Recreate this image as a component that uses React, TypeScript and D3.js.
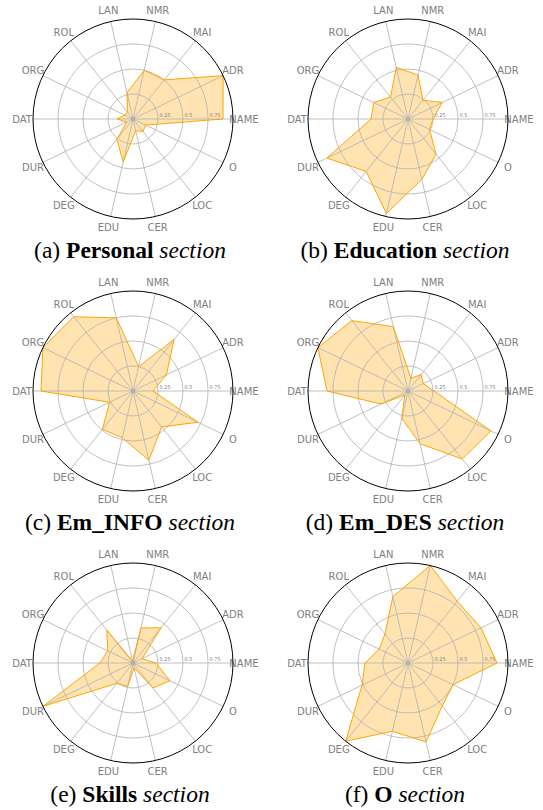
import * as d3 from "d3";

// axis order, counter-clockwise starting at 3 o'clock
const axes = ["NAME", "ADR", "MAI", "NMR", "LAN", "ROL", "ORG", "DAT", "DUR", "DEG", "EDU", "CER", "LOC", "O"];
const rTicks = [0.25, 0.5, 0.75];

const personal = [0.9, 1.0, 0.5, 0.5, 0.27, 0.09, 0.09, 0.16, 0.07, 0.26, 0.44, 0.12, 0.16, 0.14];
const education = [0.25, 0.38, 0.24, 0.45, 0.53, 0.28, 0.38, 0.37, 0.9, 0.67, 0.97, 0.62, 0.45, 0.24];
const emInfo = [0.2, 0.37, 0.66, 0.25, 0.75, 0.95, 1.0, 0.92, 0.26, 0.49, 0.48, 0.71, 0.46, 0.72];
const emDes = [0.26, 0.17, 0.21, 0.13, 0.66, 0.9, 1.0, 0.81, 0.3, 0.05, 0.28, 0.54, 0.87, 0.92];
const skills = [0.23, 0.1, 0.45, 0.36, 0.02, 0.42, 0.28, 0.33, 1.0, 0.26, 0.24, 0.05, 0.32, 0.41];
const oSection = [0.89, 0.81, 0.79, 1.0, 0.68, 0.37, 0.32, 0.43, 0.51, 1.0, 0.7, 0.81, 0.55, 0.5];

const letters = ["a", "b", "c", "d", "e", "f"];
const sectionNames = ["Personal", "Education", "Em_INFO", "Em_DES", "Skills", "O"];
const seriesList = [personal, education, emInfo, emDes, skills, oSection];

const W = 543;
const H = 810;
const R = 100;
const colX = [133, 408];
const rowY = [119, 391, 663];

const r = d3.scaleLinear().domain([0, 1]).range([0, R]);
const theta = (i: number) => (i * 2 * Math.PI) / axes.length;

// d3 radial angles go clockwise from 12 o'clock
const radar = d3
  .lineRadial<number>()
  .angle((_, i) => Math.PI / 2 - theta(i))
  .radius((d) => r(d))
  .curve(d3.curveLinearClosed);

const Radar = (props: { values: number[]; cx: number; cy: number; idx: number }) => {
  const { values, cx, cy, idx } = props;
  const path = radar(values) || "";
  return (
    <g transform={`translate(${cx},${cy})`}>
      <path d={path} fill="#ffa500" fillOpacity={0.3} stroke="none" />
      {rTicks.map((t) => (
        <circle key={t} r={r(t)} fill="none" stroke="#b0b0b0" strokeWidth={0.8} />
      ))}
      {axes.map((a, i) => (
        <line
          key={a}
          x1={0}
          y1={0}
          x2={r(1) * Math.cos(theta(i))}
          y2={-r(1) * Math.sin(theta(i))}
          stroke="#b0b0b0"
          strokeWidth={0.8}
        />
      ))}
      <circle r={2.2} fill="#b0b0b0" />
      {rTicks.map((t) => (
        <text
          key={"t" + t}
          x={r(t) + 1.5}
          y={-2}
          fontSize={5}
          fill="#808080"
          fontFamily="DejaVu Sans"
        >
          {String(t)}
        </text>
      ))}
      <path d={path} fill="none" stroke="#ffa500" strokeWidth={1} strokeLinejoin="miter" />
      {axes.map((a, i) => (
        <text
          key={"l" + a}
          x={111 * Math.cos(theta(i))}
          y={-111 * Math.sin(theta(i))}
          textAnchor="middle"
          dominantBaseline="central"
          fontSize={10}
          fill="#808080"
          fontFamily="DejaVu Sans"
        >
          {a}
        </text>
      ))}
      <circle r={r(1)} fill="none" stroke="#000" strokeWidth={1} />
      <text
        x={-3}
        y={139}
        textAnchor="middle"
        fontFamily="Liberation Serif"
        fontSize={23.5}
        fill="#000"
      >
        <tspan>{`(${letters[idx]}) `}</tspan>
        <tspan fontWeight="bold">{sectionNames[idx]}</tspan>
        <tspan fontStyle="italic">{" section"}</tspan>
      </text>
    </g>
  );
};

export default function App() {
  return (
    <svg
      width={W}
      height={H}
      style={{ position: "absolute", left: 0, top: 0, background: "#fff" }}
    >
      {seriesList.map((vals, i) => (
        <Radar key={i} values={vals} cx={colX[i % 2]} cy={rowY[Math.floor(i / 2)]} idx={i} />
      ))}
    </svg>
  );
}
